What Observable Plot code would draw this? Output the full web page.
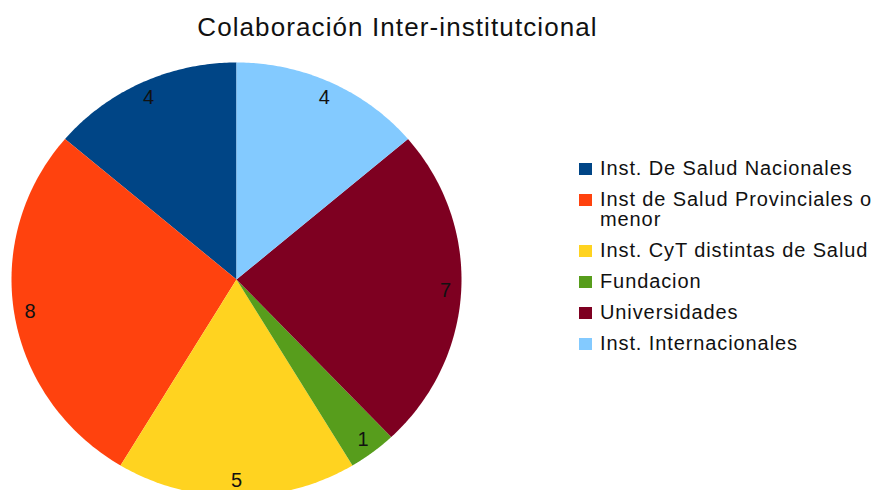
<!DOCTYPE html>
<html>
<head>
<meta charset="utf-8">
<script src="https://cdn.jsdelivr.net/npm/d3@7"></script>
<script src="https://cdn.jsdelivr.net/npm/@observablehq/plot@0.6"></script>
<style>
  html, body { margin: 0; padding: 0; background: #fff; }
  #wrap { position: relative; width: 875px; height: 490px; overflow: hidden; font-family: "Liberation Sans", Arial, sans-serif; }
  #title { position: absolute; left: 0; width: 795px; top: 12px; text-align: center; font-size: 26px; letter-spacing: 1.1px; line-height: 30px; color: #111; }
  #chart { position: absolute; left: 0; top: 50px; }
  #legend { position: absolute; left: 579px; top: 158px; font-size: 20px; letter-spacing: 0.9px; line-height: 20px; color: #111; white-space: nowrap; }
  .item { display: flex; align-items: flex-start; margin-bottom: 11px; }
  .sw { width: 13px; height: 12px; margin-top: 5px; margin-right: 8px; flex: none; }
</style>
</head>
<body>
<div id="wrap">
  <div id="title">Colaboración Inter-institutcional</div>
  <div id="chart"></div>
  <div id="legend"></div>
</div>
<script>
const categories = [
  "Inst. De Salud Nacionales",
  "Inst de Salud Provinciales o menor",
  "Inst. CyT distintas de Salud",
  "Fundacion",
  "Universidades",
  "Inst. Internacionales"
];
const values = [4, 8, 5, 1, 7, 4];
const colors = ["#004586", "#ff420e", "#ffd320", "#579d1c", "#7e0021", "#83caff"];

const rows = categories.map((c, i) => ({category: c, value: values[i]}));
const arcs = d3.pie().sort(null).value(d => d.value).startAngle(0).endAngle(-2 * Math.PI)(rows);

// slice outlines (center + arc samples), in unit data space
const poly = [];
arcs.forEach(a => {
  const c = a.data.category;
  poly.push({category: c, x: 0, y: 0});
  const n = 80;
  for (let k = 0; k <= n; k++) {
    const t = a.startAngle + (a.endAngle - a.startAngle) * k / n;
    poly.push({category: c, x: Math.sin(t), y: Math.cos(t)});
  }
});
const labels = arcs.map(a => {
  const m = (a.startAngle + a.endAngle) / 2;
  return {label: String(a.data.value), x: 0.93 * Math.sin(m), y: 0.925 * Math.cos(m)};
});

const chart = Plot.plot({
  width: 875,
  height: 440,
  margin: 0,
  x: {domain: [-1, 1], range: [11, 461], axis: null},
  y: {domain: [-1, 1], range: [446, 12], axis: null},
  color: {domain: categories, range: colors},
  style: {fontFamily: "Liberation Sans, Arial, sans-serif", background: "transparent"},
  marks: [
    Plot.line(poly, {x: "x", y: "y", z: "category", fill: "category", stroke: null, curve: "linear-closed"}),
    Plot.text(labels, {x: "x", y: "y", text: "label", fontSize: 20, fill: "#111"})
  ]
});
document.getElementById("chart").appendChild(chart);

const legend = document.getElementById("legend");
categories.forEach((c, i) => {
  const it = document.createElement("div");
  it.className = "item";
  const sw = document.createElement("div");
  sw.className = "sw";
  sw.style.background = colors[i];
  const tx = document.createElement("div");
  if (c === "Inst de Salud Provinciales o menor") {
    tx.innerHTML = "Inst de Salud Provinciales o<br>menor";
  } else {
    tx.textContent = c;
  }
  it.appendChild(sw);
  it.appendChild(tx);
  legend.appendChild(it);
});
</script>
</body>
</html>
